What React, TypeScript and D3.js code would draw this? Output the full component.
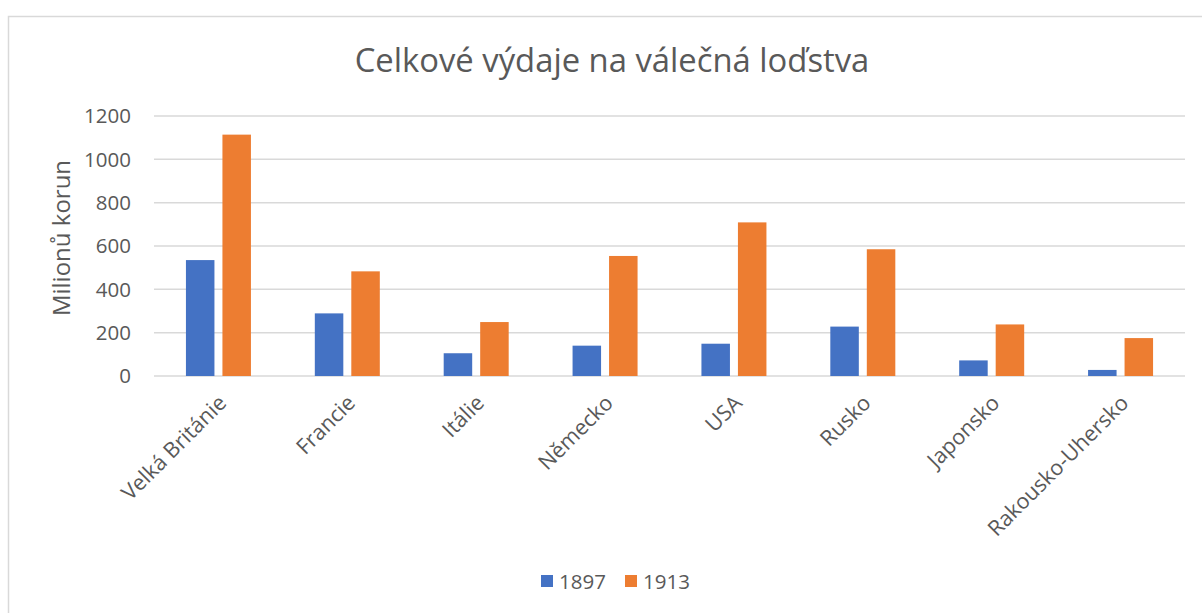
import React from 'react'
import * as d3 from 'd3'

const categories = ['Velká Británie', 'Francie', 'Itálie', 'Německo', 'USA', 'Rusko', 'Japonsko', 'Rakousko-Uhersko']
const seriesNames = ['1897', '1913']
const values1897 = [535, 289, 105, 140, 149, 228, 72, 28]
const values1913 = [1114, 483, 249, 554, 709, 585, 238, 175]
const yTicks = [0, 200, 400, 600, 800, 1000, 1200]
const colors = ['#4472C4', '#ED7D31']

const W = 1202
const H = 613
const margin = {top: 116, right: 17, bottom: 237, left: 154}
const font = '"Open Sans", sans-serif'
const textColor = '#595959'

export default function App() {
  const x0 = d3
    .scaleBand()
    .domain(categories)
    .range([margin.left, W - margin.right])
    .padding(0)
  const x1 = d3
    .scaleBand()
    .domain(seriesNames)
    .range([0, x0.bandwidth()])
    .paddingInner(0.219)
    .paddingOuter(0.875)
  const y = d3
    .scaleLinear()
    .domain([0, 1200])
    .range([H - margin.bottom, margin.top])

  const series = [values1897, values1913]

  return (
    <svg width={W} height={H} style={{position: 'absolute', left: 0, top: 0}} fontFamily={font}>
      <rect x={0} y={0} width={W} height={H} fill="#fff" />
      {/* chart frame */}
      <path d={`M8.5,${H + 2} V16.5 H${W + 2}`} fill="none" stroke="#d9d9d9" strokeWidth={1.5} />

      <text x={612} y={72} textAnchor="middle" fontSize={32.8} fill={textColor}>
        Celkové výdaje na válečná loďstva
      </text>

      {yTicks.map(t => (
        <g key={t}>
          <line
            x1={margin.left}
            x2={W - margin.right}
            y1={y(t)}
            y2={y(t)}
            stroke="#d9d9d9"
            strokeWidth={1.5}
          />
          <text x={131} y={y(t)} dy="0.36em" textAnchor="end" fontSize={20.5} fill={textColor}>
            {t}
          </text>
        </g>
      ))}

      <text
        transform={`translate(70,238) rotate(-90)`}
        textAnchor="middle"
        fontSize={24}
        fill={textColor}
      >
        Milionů korun
      </text>

      {categories.map((c, i) => (
        <g key={c} transform={`translate(${x0(c)},0)`}>
          {seriesNames.map((s, j) => (
            <rect
              key={s}
              x={x1(s)}
              y={y(series[j][i])}
              width={x1.bandwidth()}
              height={y(0) - y(series[j][i])}
              fill={colors[j]}
            />
          ))}
        </g>
      ))}

      {categories.map(c => (
        <text
          key={c}
          transform={`translate(${x0(c) + x0.bandwidth() / 2 + 4},399) rotate(-45)`}
          dy="0.35em"
          textAnchor="end"
          fontSize={21.5}
          fill={textColor}
        >
          {c}
        </text>
      ))}

      {/* legend */}
      {seriesNames.map((s, j) => (
        <g key={s} transform={`translate(${541 + j * 84},575)`}>
          <rect width={12} height={12} fill={colors[j]} />
          <text x={18} y={13.5} fontSize={20.5} fill={textColor}>
            {s}
          </text>
        </g>
      ))}
    </svg>
  )
}
